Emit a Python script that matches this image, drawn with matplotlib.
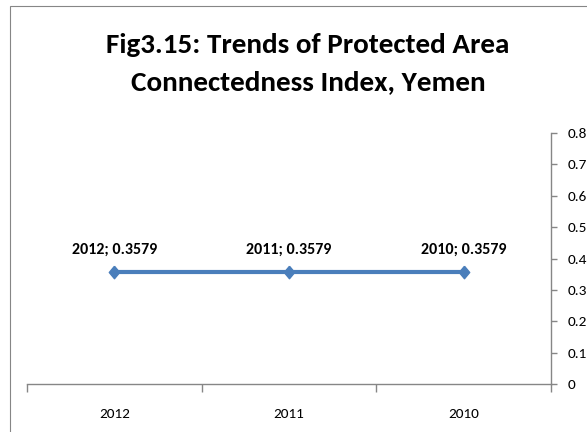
import numpy as np
import matplotlib.pyplot as plt
from matplotlib.patches import Rectangle
from matplotlib.ticker import FixedLocator, FuncFormatter

plt.rcParams['font.family'] = ['Carlito', 'Liberation Sans Narrow', 'Lato', 'DejaVu Sans']

years = ['2012', '2011', '2010']
index_values = [0.3579, 0.3579, 0.3579]

LINE_BLUE = '#4A7EBB'
AXIS_GRAY = '#868686'

# diamond a bit taller than wide, like the excel marker
diamond = [(0, 1.2), (1, 0), (0, -1.2), (-1, 0), (0, 1.2)]

fig = plt.figure(figsize=(5.87, 4.32), dpi=100)

# chart area border (only top and left edges fall inside the image)
fig.patches.append(Rectangle((9.5 / 587, -0.2), 1.5, (432 - 5.5) / 432 + 0.2,
                             transform=fig.transFigure, fill=False,
                             edgecolor=AXIS_GRAY, linewidth=0.8))

ax = fig.add_axes([27 / 587, (432 - 384) / 432, 524 / 587, 251 / 432])

x = np.arange(len(years))
ax.plot(x, index_values, color=LINE_BLUE, linewidth=3, marker=diamond,
        markersize=9, clip_on=False)

for xi, year, val in zip(x, years, index_values):
    ax.annotate(f'{year}; {val:.4f}', (xi, val), xytext=(0, 11),
                textcoords='offset points', ha='center', va='bottom',
                fontsize=11.5, fontweight='bold')

ax.set_xlim(-0.5, len(years) - 0.5)
ax.set_ylim(0, 0.8)

# category boundaries as major ticks, labels on minor ticks
ax.xaxis.set_major_locator(FixedLocator(np.arange(len(years) + 1) - 0.5))
ax.xaxis.set_major_formatter(FuncFormatter(lambda v, p: ''))
ax.xaxis.set_minor_locator(FixedLocator(x))
ax.set_xticklabels(years, minor=True)
ax.tick_params(axis='x', which='major', direction='out', length=6,
               color=AXIS_GRAY, width=1)
ax.tick_params(axis='x', which='minor', length=0, pad=17, labelsize=11)

ax.yaxis.tick_right()
ax.set_yticks(np.arange(0, 0.81, 0.1))
ax.yaxis.set_major_formatter(FuncFormatter(lambda v, p: '0' if v == 0 else f'{v:.1f}'))
ax.tick_params(axis='y', direction='out', length=4, color=AXIS_GRAY, width=1,
               pad=8, labelsize=11)

for side in ['left', 'top']:
    ax.spines[side].set_visible(False)
for side in ['right', 'bottom']:
    ax.spines[side].set_color(AXIS_GRAY)
    ax.spines[side].set_linewidth(1)

fig.text(0.525, 0.853, 'Fig3.15: Trends of Protected Area\nConnectedness Index, Yemen',
         ha='center', va='center', fontsize=21, fontweight='bold',
         linespacing=1.65)

fig.savefig('out.png', dpi=100)
